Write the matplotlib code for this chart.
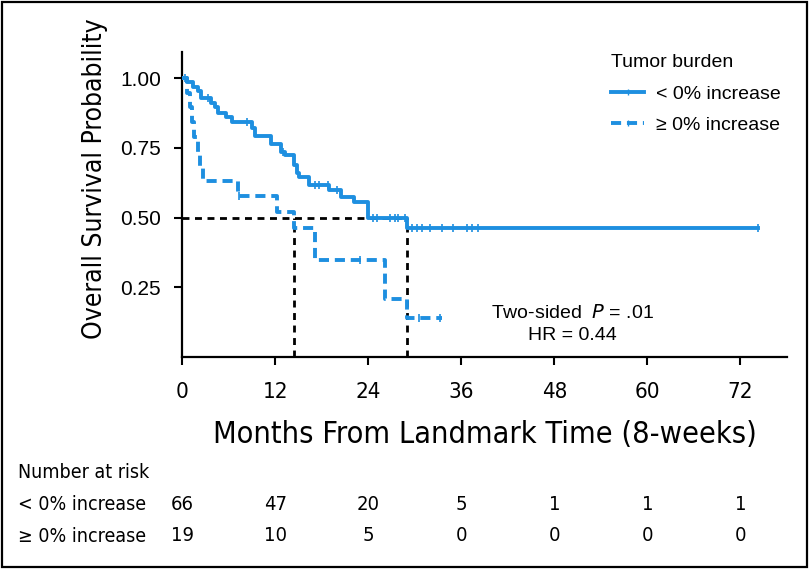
import numpy as np
import matplotlib
matplotlib.use('Agg')
import matplotlib.pyplot as plt
from matplotlib.patches import Rectangle
from matplotlib.lines import Line2D

# Kaplan-Meier steps (months, survival after step)
low_t = [0, 0.7, 1.4, 2.0, 2.5, 3.8, 4.3, 4.6, 5.7, 6.4, 9.0, 9.4, 11.5, 12.8, 13.3,
         14.5, 14.8, 15.1, 16.4, 19.0, 20.5, 22.2, 24.0, 29.0, 74.2]
low_s = [1.0, 0.985, 0.97, 0.955, 0.93, 0.91, 0.895, 0.875, 0.86, 0.843, 0.82, 0.793,
         0.764, 0.736, 0.725, 0.69, 0.66, 0.645, 0.617, 0.60, 0.575, 0.556, 0.50, 0.463, 0.463]
low_cens = [0.4, 3.3, 8.4, 13.0, 17.2, 17.6, 18.8, 20.0, 24.6, 25.2, 26.8, 27.5, 27.9,
            28.8, 29.7, 30.3, 31.0, 32.0, 33.5, 35.0, 36.8, 37.4, 38.2, 74.2]

high_t = [0, 0.6, 1.0, 1.3, 1.6, 2.0, 2.3, 2.7, 7.2, 12.3, 14.5, 17.2, 26.2, 29.0, 33.5]
high_s = [1.0, 0.947, 0.895, 0.842, 0.789, 0.737, 0.684, 0.632, 0.579, 0.521, 0.463,
          0.348, 0.208, 0.14, 0.14]
high_cens = [7.3, 23.0, 30.5, 33.3]

medians = [14.5, 29.0]

risk_times = [0, 12, 24, 36, 48, 60, 72]
risk_low = [66, 47, 20, 5, 1, 1, 1]
risk_high = [19, 10, 5, 0, 0, 0, 0]

blue = '#1E8FE0'
reg = ['Liberation Sans', 'DejaVu Sans']
cond = dict(family='DejaVu Sans', stretch='condensed')
dash_blue = (0, (2.6, 1.5))


def surv_at(t, s, times):
    idx = np.searchsorted(t, times, side='right') - 1
    return np.array(s)[idx]


fig = plt.figure(figsize=(8.1, 5.69), dpi=100)
ax = fig.add_axes([0.2247, 0.3726, 0.9716 - 0.2247, 0.9086 - 0.3726])

# median guide lines
ax.plot([0, medians[1]], [0.5, 0.5], color='black', lw=2, ls=(0, (2.5, 2)), zorder=3)
for m in medians:
    ax.plot([m, m], [0, 0.5], color='black', lw=2, ls=(0, (2.5, 2)), zorder=3)

ax.step(low_t, low_s, where='post', color=blue, lw=2.8, zorder=4)
ax.plot(low_cens, surv_at(low_t, low_s, low_cens), ls='none', marker='|',
        ms=6, mew=1.2, color=blue, zorder=5)
ax.step(high_t, high_s, where='post', color=blue, lw=2.8, ls=dash_blue, zorder=4)
ax.plot(high_cens, surv_at(high_t, high_s, high_cens), ls='none', marker='|',
        ms=6, mew=1.2, color=blue, zorder=5)

ax.set_xlim(0, 78)
ax.set_ylim(0, 1.094)
ax.set_xticks(risk_times)
ax.set_yticks([0.25, 0.5, 0.75, 1.0])
ax.set_yticklabels(['0.25', '0.50', '0.75', '1.00'], family=reg, fontsize=15)
ax.set_xticklabels([str(t) for t in risk_times], fontsize=16, **cond)
for sp in ['top', 'right']:
    ax.spines[sp].set_visible(False)
for sp in ['left', 'bottom']:
    ax.spines[sp].set_linewidth(1.6)
ax.tick_params(direction='out', length=6, width=1.5)
ax.tick_params(axis='y', pad=9)
ax.tick_params(axis='x', pad=12)

ax.set_xlabel('Months From Landmark Time (8-weeks)', fontsize=22, **cond)
ax.xaxis.set_label_coords(0.5, -0.205)
ax.set_ylabel('Overall Survival Probability', fontsize=19, **cond)
ax.yaxis.set_label_coords(-0.122, 0.584)

# legend
handles = [Line2D([], [], color=blue, lw=2.8, marker='|', ms=5, mew=1),
           Line2D([], [], color=blue, lw=2.8, ls=dash_blue, marker='|', ms=5, mew=1)]
leg = ax.legend(handles, ['< 0% increase', '≥ 0% increase'], title='Tumor burden',
                loc='upper left', bbox_to_anchor=(0.697, 1.018), frameon=False,
                prop={'family': reg, 'size': 14}, handlelength=1.65, handletextpad=0.65,
                labelspacing=0.7, borderaxespad=0)
leg.get_title().set_fontfamily(reg)
leg.get_title().set_fontsize(14)
leg._legend_box.align = 'left'

ax.text(0.645, 0.144, 'Two-sided  $\\it{P}$ = .01', transform=ax.transAxes,
        ha='center', va='center', family=reg, fontsize=14)
ax.text(0.645, 0.069, 'HR = 0.44', transform=ax.transAxes,
        ha='center', va='center', family=reg, fontsize=14)

# number at risk table
for label, ypix in [('Number at risk', 473), ('< 0% increase', 505), ('≥ 0% increase', 536)]:
    fig.text(18 / 810, 1 - ypix / 569, label, fontsize=14, va='center', ha='left', **cond)
for t, a, b in zip(risk_times, risk_low, risk_high):
    ax.text(t, -(505 - 357) / (357 - 52), str(a), transform=ax.get_xaxis_transform(),
            fontsize=14.5, ha='center', va='center', **cond)
    ax.text(t, -(536 - 357) / (357 - 52), str(b), transform=ax.get_xaxis_transform(),
            fontsize=14.5, ha='center', va='center', **cond)

fig.patches.append(Rectangle((0.002, 0.003), 0.994, 0.994, transform=fig.transFigure,
                             fill=False, lw=1.6, edgecolor='black'))

fig.savefig('out.png', dpi=100)
